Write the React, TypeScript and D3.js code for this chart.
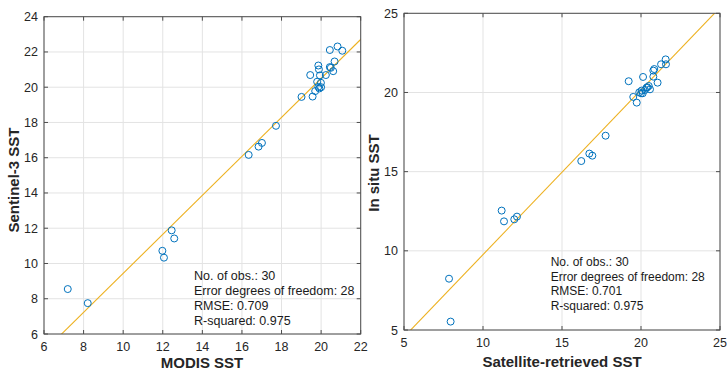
import React from "react";
import * as d3 from "d3";

const leftX = [7.2, 8.21, 11.98, 12.06, 12.45, 12.58, 16.34, 16.84, 17.01, 17.72, 19.01, 19.57, 19.45, 19.7, 19.8, 19.86, 19.89, 19.94, 19.86, 19.91, 19.99, 20.24, 20.44, 20.44, 20.49, 20.61, 20.68, 20.83, 21.07, 20.0];
const leftY = [8.55, 7.75, 10.72, 10.33, 11.88, 11.42, 16.16, 16.63, 16.84, 17.81, 19.45, 19.47, 20.69, 19.78, 20.31, 21.23, 21.01, 20.67, 20.02, 19.93, 20.25, 20.69, 22.11, 21.14, 21.1, 20.91, 21.46, 22.31, 22.07, 20.0];
const rightX = [7.85, 7.95, 11.18, 11.33, 11.98, 12.15, 16.22, 16.73, 16.92, 17.76, 19.22, 19.51, 19.73, 19.89, 20.04, 20.13, 20.11, 20.25, 20.4, 20.49, 20.57, 20.78, 20.84, 20.78, 21.05, 21.27, 21.56, 21.58, 20.0, 20.35];
const rightY = [8.24, 5.53, 12.54, 11.86, 11.99, 12.16, 15.67, 16.14, 16.01, 17.27, 20.71, 19.72, 19.36, 20.01, 20.12, 20.98, 19.95, 20.16, 20.33, 20.41, 20.2, 21.38, 21.48, 21.0, 20.62, 21.78, 22.09, 21.78, 19.95, 20.3];

const leftXTicks = [6, 8, 10, 12, 14, 16, 18, 20, 22];
const leftYTicks = [6, 8, 10, 12, 14, 16, 18, 20, 22, 24];
const rightTicks = [5, 10, 15, 20, 25];

const leftFit = { slope: 1.106, intercept: -1.62 };
const rightFit = { slope: 1.04, intercept: -0.64 };

const leftStats = ["No. of obs.: 30", "Error degrees of freedom: 28", "RMSE: 0.709", "R-squared: 0.975"];
const rightStats = ["No. of obs.: 30", "Error degrees of freedom: 28", "RMSE: 0.701", "R-squared: 0.975"];

const FONT = "'Liberation Sans', Arial, sans-serif";

type PanelProps = {
  id: string;
  x0: number; x1: number; y0: number; y1: number;
  xDomain: [number, number]; yDomain: [number, number];
  xTicks: number[]; yTicks: number[];
  xs: number[]; ys: number[];
  fit: { slope: number; intercept: number };
  stats: string[]; statsX: number; statsY: number; statsSize: number; statsGap: number;
  xLabel: string; yLabel: string; xLabelPos: [number, number]; yLabelPos: [number, number];
};

function Panel(p: PanelProps) {
  const xs = d3.scaleLinear().domain(p.xDomain).range([p.x0, p.x1]);
  const ys = d3.scaleLinear().domain(p.yDomain).range([p.y1, p.y0]);
  const fx0 = p.xDomain[0], fx1 = p.xDomain[1];
  const line = d3.line<number>().x((d) => xs(d)).y((d) => ys(p.fit.slope * d + p.fit.intercept));
  const tick = 4;
  const axisColor = "#4d4d4d";
  return (
    <g>
      <defs>
        <clipPath id={p.id}>
          <rect x={p.x0} y={p.y0} width={p.x1 - p.x0} height={p.y1 - p.y0} />
        </clipPath>
      </defs>
      <rect x={p.x0} y={p.y0} width={p.x1 - p.x0} height={p.y1 - p.y0} fill="#fff" />
      {p.xTicks.map((t) => (
        <line key={"gx" + t} x1={xs(t)} x2={xs(t)} y1={p.y0} y2={p.y1} stroke="#e3e3e3" strokeWidth={1} />
      ))}
      {p.yTicks.map((t) => (
        <line key={"gy" + t} x1={p.x0} x2={p.x1} y1={ys(t)} y2={ys(t)} stroke="#e3e3e3" strokeWidth={1} />
      ))}
      <path d={line([fx0 - 5, fx1 + 5]) || ""} stroke="#EDB120" strokeWidth={1.1} fill="none" clipPath={`url(#${p.id})`} />
      {p.xs.map((v, i) => (
        <circle key={i} cx={xs(v)} cy={ys(p.ys[i])} r={3.5} fill="none" stroke="#0072BD" strokeWidth={1} />
      ))}
      {p.xTicks.map((t) => (
        <g key={"tx" + t}>
          <line x1={xs(t)} x2={xs(t)} y1={p.y1} y2={p.y1 - tick} stroke={axisColor} />
          <line x1={xs(t)} x2={xs(t)} y1={p.y0} y2={p.y0 + tick} stroke={axisColor} />
          <text x={xs(t)} y={p.y1 + 17} textAnchor="middle" fontSize={12.5} fill="#262626" fontFamily={FONT}>{t}</text>
        </g>
      ))}
      {p.yTicks.map((t) => (
        <g key={"ty" + t}>
          <line x1={p.x0} x2={p.x0 + tick} y1={ys(t)} y2={ys(t)} stroke={axisColor} />
          <line x1={p.x1} x2={p.x1 - tick} y1={ys(t)} y2={ys(t)} stroke={axisColor} />
          <text x={p.x0 - 6} y={ys(t) + 4.5} textAnchor="end" fontSize={12.5} fill="#262626" fontFamily={FONT}>{t}</text>
        </g>
      ))}
      <rect x={p.x0} y={p.y0} width={p.x1 - p.x0} height={p.y1 - p.y0} fill="none" stroke={axisColor} strokeWidth={1} />
      {p.stats.map((s, i) => (
        <text key={s} x={p.statsX} y={p.statsY + i * p.statsGap} fontSize={p.statsSize} fill="#1a1a1a" fontFamily={FONT}>{s}</text>
      ))}
      <text x={p.xLabelPos[0]} y={p.xLabelPos[1]} textAnchor="middle" fontSize={15} fontWeight="bold" fill="#262626" fontFamily={FONT}>{p.xLabel}</text>
      <text transform={`translate(${p.yLabelPos[0]},${p.yLabelPos[1]}) rotate(-90)`} textAnchor="middle" fontSize={15} fontWeight="bold" fill="#262626" fontFamily={FONT}>{p.yLabel}</text>
    </g>
  );
}

export default function App() {
  return (
    <svg width={727} height={370} style={{ position: "absolute", left: 0, top: 0, background: "#fff" }}>
      <rect width={727} height={370} fill="#fff" />
      <Panel id="clipL" x0={44} x1={360.7} y0={16.7} y1={334}
        xDomain={[6, 22]} yDomain={[6, 24]} xTicks={leftXTicks} yTicks={leftYTicks}
        xs={leftX} ys={leftY} fit={leftFit}
        stats={leftStats} statsX={194} statsY={279.5} statsSize={12.5} statsGap={15}
        xLabel="MODIS SST" yLabel="Sentinel-3 SST" xLabelPos={[202, 368]} yLabelPos={[19, 180]} />
      <Panel id="clipR" x0={404} x1={720} y0={13.3} y1={330}
        xDomain={[5, 25]} yDomain={[5, 25]} xTicks={rightTicks} yTicks={rightTicks}
        xs={rightX} ys={rightY} fit={rightFit}
        stats={rightStats} statsX={550.7} statsY={266} statsSize={12} statsGap={14.7}
        xLabel="Satellite-retrieved SST" yLabel="In situ SST" xLabelPos={[562, 367]} yLabelPos={[379, 173]} />
    </svg>
  );
}
